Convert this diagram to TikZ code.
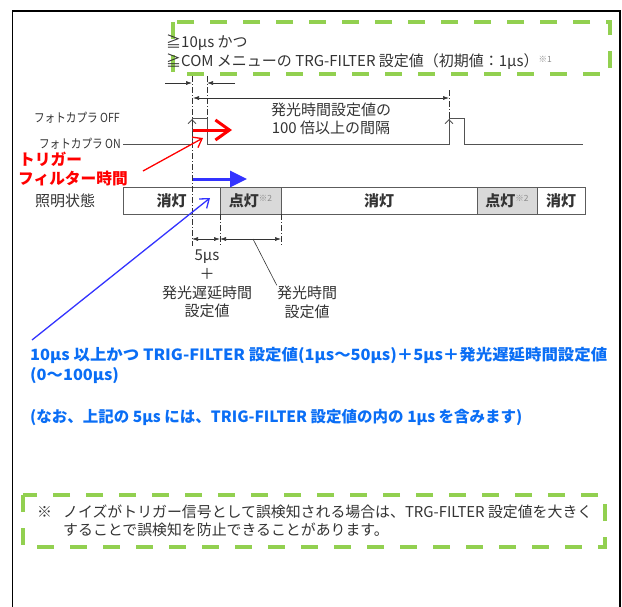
\documentclass[tikz,border=0pt]{standalone}
\usepackage{fontspec}
\setmainfont{Noto Sans CJK JP}
\usepackage{tikz}
\usetikzlibrary{positioning,arrows.meta}
\definecolor{ink}{HTML}{333333}
\definecolor{paleink}{HTML}{8A8A8A}
\definecolor{framegreen}{HTML}{92D050}
\definecolor{trigred}{HTML}{FF0000}
\definecolor{arrowblue}{HTML}{3333FF}
\definecolor{noteblue}{HTML}{0A6EF5}
\definecolor{litgray}{HTML}{D9D9D9}
\newcommand{\fsz}[2]{\fontsize{#1}{#2}\selectfont}
\newcommand{\kome}[1]{\raisebox{0.55ex}{\fsz{8.5}{9}\mdseries\color{paleink}※#1}}
\newcommand{\narrow}[1]{\scalebox{0.85}[1]{#1}}

\begin{document}
\begin{tikzpicture}[x=1pt, y=-1pt,
	txt/.style={inner sep=0pt, text=ink, font=\fsz{15}{18}},
	redtxt/.style={inner sep=0pt, text=trigred, font=\fsz{15.7}{18}\bfseries},
	bluetxt/.style={inner sep=0pt, text=noteblue, font=\fsz{15.5}{18}\bfseries},
	state/.style={draw=ink!80, line width=0.8pt, minimum height=27pt, inner sep=0pt, outer sep=0pt, text=ink, font=\fsz{15}{18}\bfseries},
	lit/.style={state, fill=litgray},
	chain/.style={draw=ink, line width=0.6pt, dash pattern=on 6pt off 2pt on 1pt off 2pt},
	dimto/.style={draw=ink, line width=0.6pt, -{Latex[length=6pt,width=4pt]}},
	dimboth/.style={draw=ink, line width=0.6pt, {Latex[length=6pt,width=4pt]}-{Latex[length=6pt,width=4pt]}},
	greenbox/.style={draw=framegreen, line width=4pt, dash pattern=on 17pt off 16pt},
	wave/.style={draw=ink!85, line width=0.9pt},
	]
	\useasboundingbox (0,0) rectangle (622,606);

	% frame and green boxes
	\draw [ line width=1.8pt ] (12.5,640) -- (12.5,11) -- (620,11) -- (620,640);
	\draw [ greenbox ] (173,22) rectangle (610,74);
	\draw [ greenbox ] (23,495) rectangle (605,547);

	\node (geq1) [ txt, anchor=west ] at (166,43) {≧10μs かつ};
	\node (geq2) [ txt, anchor=west ] at (166,62) {≧COM メニューの TRG-FILTER 設定値（初期値：1μs）\kome{1}};

	% photocoupler signal
	\node (off) [ txt, font=\fsz{12.5}{14}, anchor=east ] at (120,118) {\narrow{フォトカプラ OFF}};
	\node (on) [ txt, font=\fsz{12.5}{14}, anchor=east ] at (121,144) {\narrow{フォトカプラ ON}};
	\draw [ wave ] (123,144) -- (192,144) -- (192,118) -- (207,118) -- (207,144)
	  -- (449,144) -- (449,118) -- (464,118) -- (464,144) -- (583,144);
	\draw [ wave, -{Straight Barb[length=4pt,width=8pt]} ] (192,134) -- (192,119);
	\draw [ wave, -{Straight Barb[length=4pt,width=8pt]} ] (449,134) -- (449,119);

	% lighting state
	\node (lamp) [ txt, anchor=west ] at (35,201) {照明状態};
	\node (off1) [ state, minimum width=97pt ] at (171.5,200.5) {消灯};
	\node (on1) [ lit, minimum width=61pt, right=0pt of off1 ] {点灯\kome{2}};
	\node (off2) [ state, minimum width=196pt, right=0pt of on1 ] {消灯};
	\node (on2) [ lit, minimum width=60pt, right=0pt of off2 ] {点灯\kome{2}};
	\node (off3) [ state, minimum width=48pt, right=0pt of on2 ] {消灯};

	% chain lines
	\coordinate (c0) at (192,76);
	\coordinate (c1) at (207,76);
	\coordinate (c2) at (449,90);
	\coordinate (b0) at (192,239);
	\coordinate (b1) at (on1.south west |- b0);
	\coordinate (b2) at (on1.south east |- b0);
	\draw [ chain ] (c0) -- (192,246);
	\draw [ chain ] (c1) -- (207,118);
	\draw [ chain ] (c2) -- (449,118);
	\draw [ chain ] (on1.south west) -- ++(0,32);
	\draw [ chain ] (on1.south east) -- ++(0,32);

	% dimensions
	\coordinate (t0) at (165,83);
	\coordinate (t1) at (192,83);
	\coordinate (t2) at (207,83);
	\coordinate (t3) at (235,83);
	\coordinate (g0) at (193,98);
	\coordinate (g1) at (449,98);
	\draw [ dimto ] (t0) -- (t1);
	\draw [ dimto ] (t3) -- (t2);
	\draw [ dimboth ] (g0) -- (g1);
	\draw [ dimboth ] (b0) -- (b1);
	\draw [ dimboth ] (b1) -- (b2);
	\node (gap) [ txt, align=center ] at (331,119) {発光時間設定値の\\100 倍以上の間隔};
	\node (delay) [ txt, font=\fsz{15}{18.7}, align=center ] at (207,284) {5μs\\＋\\発光遅延時間\\設定値};
	\node (emit) [ txt, font=\fsz{15}{19}, align=center ] at (307,302) {発光時間\\設定値};
	\coordinate (lead) at (253,239);
	\draw [ ink, line width=0.6pt ] (lead) -- (emit.north west);

	% trigger filter
	\node (trg1) [ redtxt, anchor=west ] at (19,159) {トリガー};
	\node (trg2) [ redtxt, anchor=west ] at (18,179) {フィルター時間};
	\coordinate (rs) at (143,171);
	\coordinate (rt) at (203,138);
	\coordinate (ra) at (193,130);
	\coordinate (rb) at (232,130);
	\draw [ trigred, line width=1.3pt, -{Straight Barb[length=8pt,width=12pt]} ]
	  (rs) -- (rt);
	\draw [ trigred, line width=3pt, -{Straight Barb[length=14pt,width=20pt]} ]
	  (ra) -- (rb);

	% delay until lighting
	\coordinate (bs) at (32,340);
	\coordinate (bt) at (210,198);
	\coordinate (ba) at (193,179);
	\coordinate (bb) at (247,179);
	\draw [ arrowblue, line width=1.3pt, -{Straight Barb[length=8pt,width=12pt]} ]
	  (bs) -- (bt);
	\draw [ arrowblue, line width=3pt, -{Triangle[length=17pt,width=16pt]} ]
	  (ba) -- (bb);
	\node (sum1) [ bluetxt, anchor=west ] at (30,355) {\scalebox{1.06}[1]{10μs 以上かつ TRIG-FILTER 設定値(1μs～50μs)＋5μs＋発光遅延時間設定値}};
	\node (sum2) [ bluetxt, anchor=west ] at (30,376) {\scalebox{1.055}[1]{(0～100μs)}};
	\node (sum3) [ bluetxt, anchor=west ] at (30,417) {(なお、上記の 5μs には、TRIG-FILTER 設定値の内の 1μs を含みます)};

	% note
	\node (kome) [ txt, font=\fsz{14.9}{18}, anchor=west ] at (37,512) {※};
	\node (note1) [ txt, font=\fsz{14.9}{18}, anchor=west ] at (63,512) {ノイズがトリガー信号として誤検知される場合は、TRG-FILTER 設定値を大きく};
	\node (note2) [ txt, font=\fsz{14.9}{18}, anchor=west ] at (63,530) {することで誤検知を防止できることがあります。};
\end{tikzpicture}
\end{document}
